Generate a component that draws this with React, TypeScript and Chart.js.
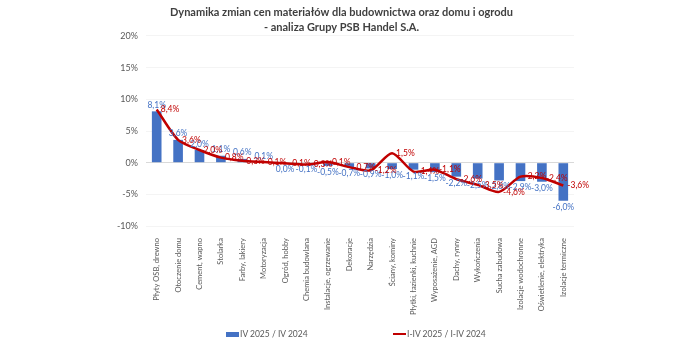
import React, { useEffect, useRef } from "react";
import { Chart, registerables } from "chart.js";

Chart.register(...registerables);

const categories: string[] = [
  "Płyty OSB, drewno",
  "Otoczenie domu",
  "Cement, wapno",
  "Stolarka",
  "Farby, lakiery",
  "Motoryzacja",
  "Ogród, hobby",
  "Chemia budowlana",
  "Instalacje, ogrzewanie",
  "Dekoracje",
  "Narzędzia",
  "Ściany, kominy",
  "Płytki, łazienki, kuchnie",
  "Wyposażenie, AGD",
  "Dachy, rynny",
  "Wykończenia",
  "Sucha zabudowa",
  "Izolacje wodochronne",
  "Oświetlenie, elektryka",
  "Izolacje termiczne",
];

const barSeriesName = "IV 2025 / IV 2024";
const lineSeriesName = "I-IV 2025 / I-IV 2024";

const barValues: number[] = [
  8.1, 3.6, 2.0, 1.1, 0.6, 0.1, 0.0, -0.1, -0.5, -0.7, -0.9, -1.0, -1.1, -1.5,
  -2.2, -2.5, -2.8, -2.9, -3.0, -6.0,
];

const lineValues: number[] = [
  8.4, 3.6, 2.0, 0.8, 0.3, 0.1, -0.1, -0.3, 0.1, -0.7, -1.2, 1.5, -1.4, -1.1,
  -2.6, -3.5, -4.6, -2.2, -2.4, -3.6,
];

const titleLines: string[] = [
  "Dynamika zmian cen materiałów dla budownictwa oraz domu i ogrodu",
  "- analiza Grupy PSB Handel S.A.",
];

const BLUE = "#4472C4";
const RED = "#C00000";
const GREY = "#595959";
const FONT = "Lato, sans-serif";

const fmt = (v: number) => v.toFixed(1).replace(".", ",") + "%";

const valueLabels = {
  id: "valueLabels",
  afterDatasetsDraw(chart: any) {
    const ctx = chart.ctx;
    ctx.save();
    ctx.font = `8.5px ${FONT}`;
    const barMeta = chart.getDatasetMeta(0);
    ctx.fillStyle = BLUE;
    ctx.textAlign = "center";
    barMeta.data.forEach((el: any, i: number) => {
      const v = barValues[i];
      if (v > 0) {
        ctx.textBaseline = "bottom";
        ctx.fillText(fmt(v), el.x, el.y - 2);
      } else {
        ctx.textBaseline = "top";
        ctx.fillText(fmt(v), el.x, Math.max(el.y, el.base) + 2);
      }
    });
    const lineMeta = chart.getDatasetMeta(1);
    ctx.fillStyle = RED;
    ctx.textAlign = "left";
    ctx.textBaseline = "middle";
    lineMeta.data.forEach((el: any, i: number) => {
      ctx.fillText(fmt(lineValues[i]), el.x + 4, el.y);
    });
    ctx.restore();
  },
};

export default function App() {
  const ref = useRef<HTMLCanvasElement | null>(null);

  useEffect(() => {
    if (!ref.current) return;
    const chart = new Chart(ref.current, {
      type: "bar",
      data: {
        labels: categories,
        datasets: [
          {
            type: "bar",
            label: barSeriesName,
            data: barValues,
            backgroundColor: BLUE,
            categoryPercentage: 0.45,
            barPercentage: 1,
            order: 2,
          } as any,
          {
            type: "line",
            label: lineSeriesName,
            data: lineValues,
            borderColor: RED,
            borderWidth: 2.5,
            pointRadius: 0,
            tension: 0.25,
            fill: false,
            order: 1,
          } as any,
        ],
      },
      options: {
        animation: false,
        responsive: false,
        maintainAspectRatio: false,
        layout: { padding: { left: 109, right: 126, top: 2, bottom: 31 } },
        plugins: {
          legend: { display: false },
          tooltip: { enabled: false },
          title: {
            display: true,
            text: titleLines,
            color: "#404040",
            font: { family: FONT, size: 11, weight: "bold", lineHeight: 1.45 },
            padding: { top: 2, bottom: 0 },
          },
        },
        scales: {
          x: {
            grid: { display: false },
            border: { display: false },
            ticks: {
              color: GREY,
              font: { family: FONT, size: 7.5 },
              maxRotation: 90,
              minRotation: 90,
              autoSkip: false,
              padding: 4,
            },
          },
          y: {
            min: -10,
            max: 20,
            border: { display: false },
            grid: {
              color: (c: any) => (c.tick && c.tick.value === 0 ? "#D9D9D9" : "#F4F4F4"),
              drawTicks: false,
            },
            ticks: {
              stepSize: 5,
              color: GREY,
              font: { family: FONT, size: 9 },
              padding: 8,
              callback: (v: any) => v + "%",
            },
          },
        },
      },
      plugins: [valueLabels],
    });
    return () => chart.destroy();
  }, []);

  const legendItem: React.CSSProperties = {
    position: "absolute",
    top: 329,
    display: "flex",
    alignItems: "center",
    fontFamily: FONT,
    fontSize: 8.5,
    color: GREY,
    whiteSpace: "nowrap",
  };

  return (
    <div style={{ position: "fixed", left: 0, top: 0, width: 700, height: 350, background: "#fff" }}>
      <canvas ref={ref} width={700} height={350} style={{ width: 700, height: 350 }} />
      <div style={{ ...legendItem, left: 226 }}>
        <span style={{ display: "inline-block", width: 13, height: 5, background: BLUE, marginRight: 1 }} />
        <span>{barSeriesName}</span>
      </div>
      <div style={{ ...legendItem, left: 393 }}>
        <span style={{ display: "inline-block", width: 13, height: 2, background: RED, marginRight: 1 }} />
        <span>{lineSeriesName}</span>
      </div>
    </div>
  );
}
